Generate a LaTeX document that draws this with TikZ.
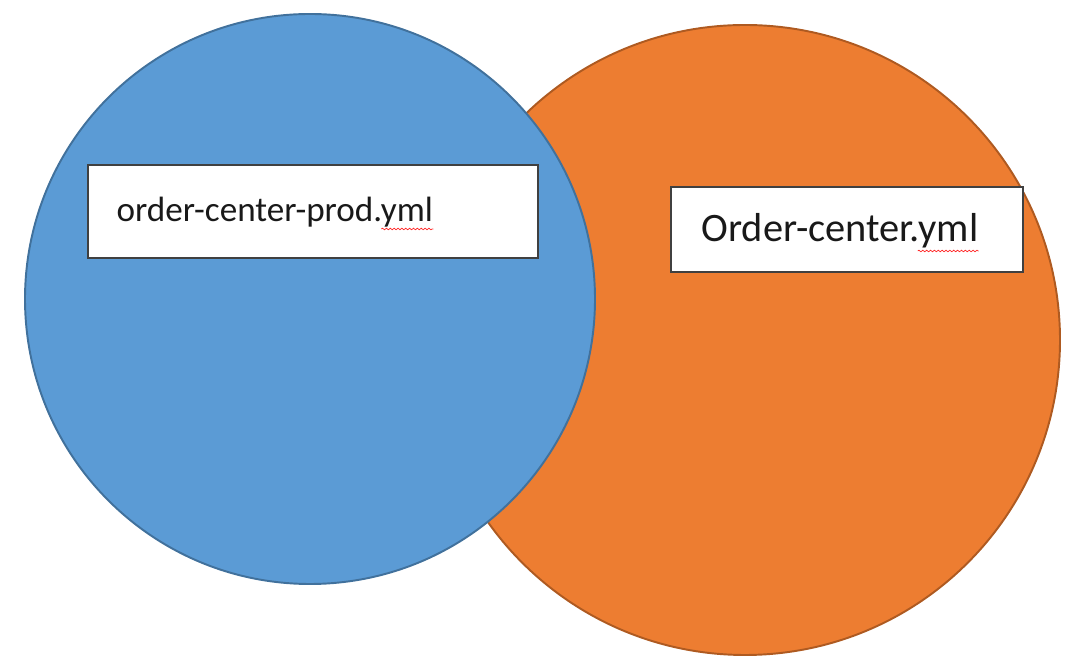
\documentclass[tikz,border=0pt]{standalone}
\usepackage{fontspec}
\setmainfont{Carlito}
\definecolor{setblue}{RGB}{91, 155, 213}
\definecolor{setblueedge}{RGB}{65, 113, 156}
\definecolor{setorange}{RGB}{237, 125, 49}
\definecolor{setorangeedge}{RGB}{174, 90, 33}
\usetikzlibrary{positioning, calc, decorations.pathmorphing}

\begin{document}
\begin{tikzpicture}[
    blob/.style={line width=1.1pt},
    filebox/.style={draw=black!75, fill=white, line width=0.8pt, inner sep=0pt},
    fname/.style={inner sep=0pt, text=black!90},
    spell/.style={draw=red!85, line width=0.4pt, decorate, decoration={snake, amplitude=0.45pt, segment length=2.2pt}}
]
    \useasboundingbox (0,0) rectangle (21.44,13.34);
    % the two sets
    \draw[blob, fill=setorange, draw=setorangeedge] (14.9,6.54) circle[radius=6.3cm];
    \draw[blob, fill=setblue, draw=setblueedge] (6.2,7.36) circle[radius=5.7cm];
    % file names
    \node[filebox, minimum width=9cm, minimum height=1.86cm] (prodbox) at (6.26,9.11) {};
    \node[fname, anchor=base west, font=\fontsize{20}{24}\selectfont] (prodname) at ($(prodbox.west)+(0.58,-0.21)$) {order-center-prod.yml};
    \node[filebox, minimum width=7.04cm, minimum height=1.7cm] (ctrbox) at (16.94,8.75) {};
    \node[fname, anchor=base, font=\fontsize{23}{28}\selectfont] (ctrname) at ($(ctrbox.center)+(-0.14,-0.25)$) {Order-center.yml};
    \draw[spell] ($(prodname.base east)+(-1.04,-0.14)$) -- ($(prodname.base east)+(0,-0.14)$);
    \draw[spell] ($(ctrname.base east)+(-1.22,-0.18)$) -- ($(ctrname.base east)+(0,-0.18)$);
\end{tikzpicture}
\end{document}
